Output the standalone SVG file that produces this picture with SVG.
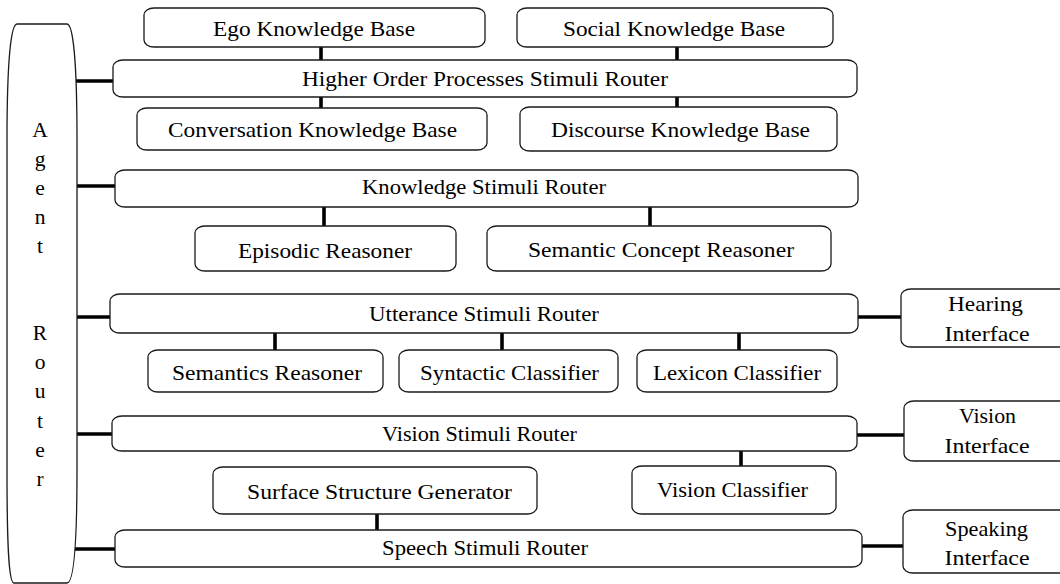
<svg xmlns="http://www.w3.org/2000/svg" width="1060" height="584" viewBox="0 0 1060 584">
<style>
.box{fill:#fff;stroke:#1a1a1a;stroke-width:1.3}
.t{font-size:21.5px;fill:#000;text-anchor:middle}
.c{stroke:#000;stroke-width:3.6;fill:none}
</style>
<rect width="1060" height="584" fill="#fff"/>
<g id="connectors">
<line class="c" x1="321" y1="47" x2="321" y2="60"/>
<line class="c" x1="677" y1="47" x2="677" y2="60"/>
<line class="c" x1="321" y1="97" x2="321" y2="108"/>
<line class="c" x1="677" y1="97" x2="677" y2="107"/>
<line class="c" x1="76" y1="81" x2="113" y2="81"/>
<line class="c" x1="77" y1="186" x2="115" y2="186"/>
<line class="c" x1="324" y1="207" x2="324" y2="226"/>
<line class="c" x1="650" y1="207" x2="650" y2="226"/>
<line class="c" x1="77" y1="317" x2="110" y2="317"/>
<line class="c" x1="275" y1="333" x2="275" y2="350"/>
<line class="c" x1="502" y1="333" x2="502" y2="350"/>
<line class="c" x1="739" y1="333" x2="739" y2="350"/>
<line class="c" x1="858" y1="317" x2="901" y2="317"/>
<line class="c" x1="77" y1="434" x2="112" y2="434"/>
<line class="c" x1="857" y1="435" x2="904" y2="435"/>
<line class="c" x1="741" y1="451" x2="741" y2="466"/>
<line class="c" x1="377" y1="514" x2="377" y2="530"/>
<line class="c" x1="74" y1="549" x2="115" y2="549"/>
<line class="c" x1="862" y1="546" x2="903" y2="546"/>
</g>
<g font-family="Liberation Serif, Tinos, Times New Roman, Noto Serif, DejaVu Serif, serif">
<g id="agent-router">
<path class="box" d="M17,24 L67,24 C73,24 77,60 77,140 L77,470 C77,550 73,583 67,583 L14,583 C9,583 7,550 7,470 L7,140 C7,60 11,24 17,24 Z"/>
<text class="t" x="40" y="137">A</text>
<text class="t" x="40" y="166">g</text>
<text class="t" x="40" y="195">e</text>
<text class="t" x="40" y="224">n</text>
<text class="t" x="40" y="253">t</text>
<text class="t" x="40" y="340">R</text>
<text class="t" x="40" y="369">o</text>
<text class="t" x="40" y="398">u</text>
<text class="t" x="40" y="428">t</text>
<text class="t" x="40" y="457">e</text>
<text class="t" x="40" y="486">r</text>
</g>
<g id="ego-kb">
<rect class="box" x="144" y="8" width="341" height="39" rx="10" ry="7"/>
<text class="t" x="314" y="36" textLength="202" lengthAdjust="spacingAndGlyphs">Ego Knowledge Base</text>
</g>
<g id="social-kb">
<rect class="box" x="517" y="8" width="316" height="39" rx="10" ry="7"/>
<text class="t" x="674" y="36" textLength="222" lengthAdjust="spacingAndGlyphs">Social Knowledge Base</text>
</g>
<g id="higher-order-router">
<rect class="box" x="113" y="60" width="744" height="37" rx="10" ry="7"/>
<text class="t" x="485" y="86" textLength="366" lengthAdjust="spacingAndGlyphs">Higher Order Processes Stimuli Router</text>
</g>
<g id="conversation-kb">
<rect class="box" x="137" y="108" width="350" height="42" rx="10" ry="7"/>
<text class="t" x="312.5" y="137" textLength="289" lengthAdjust="spacingAndGlyphs">Conversation Knowledge Base</text>
</g>
<g id="discourse-kb">
<rect class="box" x="520" y="107" width="317" height="44" rx="10" ry="7"/>
<text class="t" x="680.5" y="137" textLength="259" lengthAdjust="spacingAndGlyphs">Discourse Knowledge Base</text>
</g>
<g id="knowledge-router">
<rect class="box" x="115" y="170" width="743" height="37" rx="10" ry="7"/>
<text class="t" x="484" y="194" textLength="244" lengthAdjust="spacingAndGlyphs">Knowledge Stimuli Router</text>
</g>
<g id="episodic-reasoner">
<rect class="box" x="195" y="226" width="261" height="45" rx="10" ry="7"/>
<text class="t" x="325" y="258" textLength="174" lengthAdjust="spacingAndGlyphs">Episodic Reasoner</text>
</g>
<g id="semantic-concept-reasoner">
<rect class="box" x="487" y="226" width="344" height="45" rx="10" ry="7"/>
<text class="t" x="661" y="257" textLength="266" lengthAdjust="spacingAndGlyphs">Semantic Concept Reasoner</text>
</g>
<g id="utterance-router">
<rect class="box" x="110" y="294" width="748" height="39" rx="10" ry="7"/>
<text class="t" x="484" y="321" textLength="230" lengthAdjust="spacingAndGlyphs">Utterance Stimuli Router</text>
</g>
<g id="hearing-interface">
<rect class="box" x="901" y="289" width="175" height="58" rx="10" ry="7"/>
<text class="t" x="985.5" y="311" textLength="75" lengthAdjust="spacingAndGlyphs">Hearing</text>
<text class="t" x="987" y="341" textLength="85" lengthAdjust="spacingAndGlyphs">Interface</text>
</g>
<g id="semantics-reasoner">
<rect class="box" x="148" y="350" width="235" height="42" rx="10" ry="7"/>
<text class="t" x="267" y="380" textLength="190" lengthAdjust="spacingAndGlyphs">Semantics Reasoner</text>
</g>
<g id="syntactic-classifier">
<rect class="box" x="399" y="350" width="219" height="42" rx="10" ry="7"/>
<text class="t" x="509.5" y="380" textLength="179" lengthAdjust="spacingAndGlyphs">Syntactic Classifier</text>
</g>
<g id="lexicon-classifier">
<rect class="box" x="637" y="350" width="200" height="42" rx="10" ry="7"/>
<text class="t" x="737" y="380" textLength="168" lengthAdjust="spacingAndGlyphs">Lexicon Classifier</text>
</g>
<g id="vision-router">
<rect class="box" x="112" y="416" width="745" height="35" rx="10" ry="7"/>
<text class="t" x="479.5" y="441" textLength="195" lengthAdjust="spacingAndGlyphs">Vision Stimuli Router</text>
</g>
<g id="vision-interface">
<rect class="box" x="904" y="401" width="175" height="60" rx="10" ry="7"/>
<text class="t" x="987.5" y="423" textLength="57" lengthAdjust="spacingAndGlyphs">Vision</text>
<text class="t" x="987" y="453" textLength="85" lengthAdjust="spacingAndGlyphs">Interface</text>
</g>
<g id="surface-structure-generator">
<rect class="box" x="213" y="467" width="324" height="47" rx="10" ry="7"/>
<text class="t" x="379.5" y="499" textLength="265" lengthAdjust="spacingAndGlyphs">Surface Structure Generator</text>
</g>
<g id="vision-classifier">
<rect class="box" x="632" y="466" width="204" height="48" rx="10" ry="7"/>
<text class="t" x="732.5" y="497" textLength="151" lengthAdjust="spacingAndGlyphs">Vision Classifier</text>
</g>
<g id="speech-router">
<rect class="box" x="115" y="530" width="747" height="37" rx="10" ry="7"/>
<text class="t" x="485" y="555" textLength="206" lengthAdjust="spacingAndGlyphs">Speech Stimuli Router</text>
</g>
<g id="speaking-interface">
<rect class="box" x="903" y="510" width="175" height="63" rx="10" ry="7"/>
<text class="t" x="986.5" y="536" textLength="83" lengthAdjust="spacingAndGlyphs">Speaking</text>
<text class="t" x="987" y="565" textLength="85" lengthAdjust="spacingAndGlyphs">Interface</text>
</g>
</g>
</svg>
